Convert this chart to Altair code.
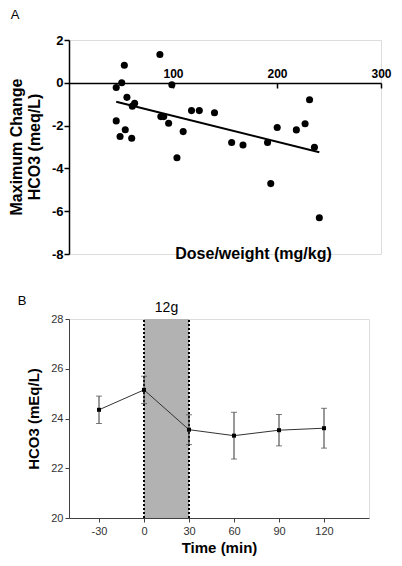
import altair as alt
import pandas as pd

FONT = "Liberation Sans"

# ---------- Panel A data: dose/weight vs maximum change in HCO3 ----------
dose = [45.4, 50.7, 53.2, 55.7, 60.9, 63.1, 45.4, 54.1, 49.1, 60.3,
        87.4, 98.9, 88.3, 91.1, 95.8, 109.8, 117.8, 125.3, 139.9, 156.4,
        167.3, 190.9, 200.2, 218.6, 227.0, 231.3, 236.0, 103.8, 194.0, 240.7]
hco3_change = [-0.22, 0.0, 0.82, -0.68, -1.09, -0.96, -1.78, -2.19, -2.51, -2.59,
               1.32, -0.09, -1.58, -1.58, -1.89, -2.28, -1.30, -1.30, -1.40, -2.79,
               -2.91, -2.79, -2.09, -2.20, -1.91, -0.79, -3.01, -3.50, -4.71, -6.31]
a_x_ticks = [100, 200, 300]
a_y_ticks = [-8, -6, -4, -2, 0, 2]
a_y_title = ["Maximum Change", "HCO3 (meq/L)"]

# ---------- Panel B data: HCO3 over time ----------
time_min = [-30, 0, 30, 60, 90, 120]
hco3_mean = [24.35, 25.15, 23.55, 23.31, 23.53, 23.61]
hco3_err = [0.55, 0.55, 0.60, 0.94, 0.63, 0.80]
b_x_ticks = [-30, 0, 30, 60, 90, 120]
b_y_ticks = [20, 22, 24, 26, 28]
infusion_start = [0]
infusion_end = [30]
infusion_label = ["12g"]
band_low = [20]
band_high = [28]

dfA = pd.DataFrame({"dose": dose, "change": hco3_change})
dfB = pd.DataFrame({
    "time": time_min,
    "mean": hco3_mean,
    "lo": [m - e for m, e in zip(hco3_mean, hco3_err)],
    "hi": [m + e for m, e in zip(hco3_mean, hco3_err)],
})
dfBand = pd.DataFrame({"start": infusion_start, "end": infusion_end,
                       "ylo": band_low, "yhi": band_high, "label": infusion_label})

HYPHEN = "'' + datum.value"

# ---------- Panel A ----------
A_W, A_H = 312, 214


def xA(field):
    return alt.X(field, type="quantitative",
                 scale=alt.Scale(domain=[0, 300], nice=False, zero=False),
                 axis=alt.Axis(values=a_x_ticks, orient="bottom", offset=-171,
                               title="Dose/weight (mg/kg)", grid=False,
                               labelFontWeight="bold", labelFontSize=12, labelColor="black",
                               labelFont=FONT, labelBaseline="alphabetic", labelPadding=-11,
                               labelFlush=False, labelOverlap=False,
                               tickSize=5, tickWidth=1.5, tickColor="black",
                               domainColor="black", domainWidth=1.5,
                               titleFont=FONT, titleFontSize=16, titleFontWeight="bold",
                               titleColor="black", titleX=184, titleY=170,
                               titleBaseline="middle", titleAlign="center"))


def yA(field):
    return alt.Y(field, type="quantitative",
                 scale=alt.Scale(domain=[-8, 2], nice=False, zero=False),
                 axis=alt.Axis(values=a_y_ticks, title=None,
                               grid=False, labelFontWeight="bold", labelFontSize=13,
                               labelColor="black", labelFont=FONT, labelPadding=1,
                               labelExpr=HYPHEN,
                               tickSize=5, tickWidth=1.5, tickColor="black",
                               domainColor="black", domainWidth=1.5))


pointsA = alt.Chart(dfA).mark_circle(size=50, color="black", opacity=1).encode(
    x=xA("dose"), y=yA("change"))
regA = alt.Chart(dfA).transform_regression("dose", "change").mark_line(
    color="black", strokeWidth=2).encode(x=xA("dose"), y=yA("change"))
labelA = alt.Chart(pd.DataFrame({"t": ["A"]})).mark_text(
    font=FONT, fontSize=13, align="center", baseline="middle", color="black").encode(
    x=alt.value(-54), y=alt.value(-25), text="t:N")
ytitleA1 = alt.Chart(pd.DataFrame({"t": [a_y_title[0]]})).mark_text(
    font=FONT, fontSize=16, fontWeight="bold", angle=270, align="center",
    baseline="middle", color="black").encode(
    x=alt.value(-52), y=alt.value(A_H / 2), text="t:N")
ytitleA2 = alt.Chart(pd.DataFrame({"t": [a_y_title[1]]})).mark_text(
    font=FONT, fontSize=16, fontWeight="bold", angle=270, align="center",
    baseline="middle", color="black").encode(
    x=alt.value(-34), y=alt.value(A_H / 2), text="t:N")

chartA = alt.layer(pointsA, regA, labelA, ytitleA1, ytitleA2).properties(width=A_W, height=A_H)

# ---------- Panel B ----------
B_W, B_H = 300, 199


def xB(field):
    return alt.X(field, type="quantitative",
                 scale=alt.Scale(domain=[-50, 150], nice=False, zero=False),
                 axis=alt.Axis(values=b_x_ticks, title="Time (min)", grid=False,
                               labelFontSize=11, labelColor="#333333", labelFont=FONT,
                               labelPadding=3, labelFlush=False, labelOverlap=False,
                               labelExpr=HYPHEN,
                               tickSize=4, tickColor="#404040", domainColor="#404040",
                               titleFont=FONT, titleFontSize=15, titleFontWeight="bold",
                               titleColor="black", titlePadding=4))


def yB(field):
    return alt.Y(field, type="quantitative",
                 scale=alt.Scale(domain=[20, 28], nice=False, zero=False),
                 axis=alt.Axis(values=b_y_ticks, title="HCO3 (mEq/L)", grid=False,
                               labelFontSize=11, labelColor="#333333", labelFont=FONT,
                               labelPadding=2, tickSize=4, tickColor="#404040",
                               domainColor="#404040",
                               titleFont=FONT, titleFontSize=15, titleFontWeight="bold",
                               titleColor="black", titleX=-28, titleBaseline="bottom"))


band = alt.Chart(dfBand).mark_rect(color="#b2b2b2").encode(
    x=xB("start"), x2="end", y=yB("ylo"), y2="yhi")
edges = alt.Chart(dfBand).transform_fold(["start", "end"], as_=["edge", "tx"]).mark_rule(
    color="black", strokeWidth=2, strokeDash=[2, 2]).encode(
    x=xB("tx"), y=yB("ylo"), y2="yhi")
bandLabel = alt.Chart(dfBand).transform_calculate(mid="(datum.start + datum.end) / 2").mark_text(
    font=FONT, fontSize=14, align="center", baseline="bottom", color="black").encode(
    x=xB("mid"), y=alt.value(-4), text="label:N")
errRule = alt.Chart(dfB).mark_rule(color="#333333", strokeWidth=1).encode(
    x=xB("time"), y=yB("lo"), y2="hi")
errCaps = alt.Chart(dfB).transform_fold(["lo", "hi"], as_=["which", "val"]).mark_tick(
    orient="horizontal", size=6, thickness=1, color="#444444").encode(
    x=xB("time"), y=yB("val"))
lineB = alt.Chart(dfB).mark_line(color="#333333", strokeWidth=1).encode(
    x=xB("time"), y=yB("mean"))
ptsB = alt.Chart(dfB).mark_square(size=16, color="black", opacity=1).encode(
    x=xB("time"), y=yB("mean"))
labelB = alt.Chart(pd.DataFrame({"t": ["B"]})).mark_text(
    font=FONT, fontSize=13, align="center", baseline="middle", color="black").encode(
    x=alt.value(-47), y=alt.value(-18), text="t:N")

chartB = alt.layer(band, edges, bandLabel, errRule, errCaps, lineB, ptsB, labelB).properties(
    width=B_W, height=B_H)

chart = alt.vconcat(chartA, chartB, spacing=65, bounds="flush").properties(
    padding=0).configure_view(stroke=None).configure(font=FONT)

chart.save("out.html", embed_options={"renderer": "svg", "actions": False})
